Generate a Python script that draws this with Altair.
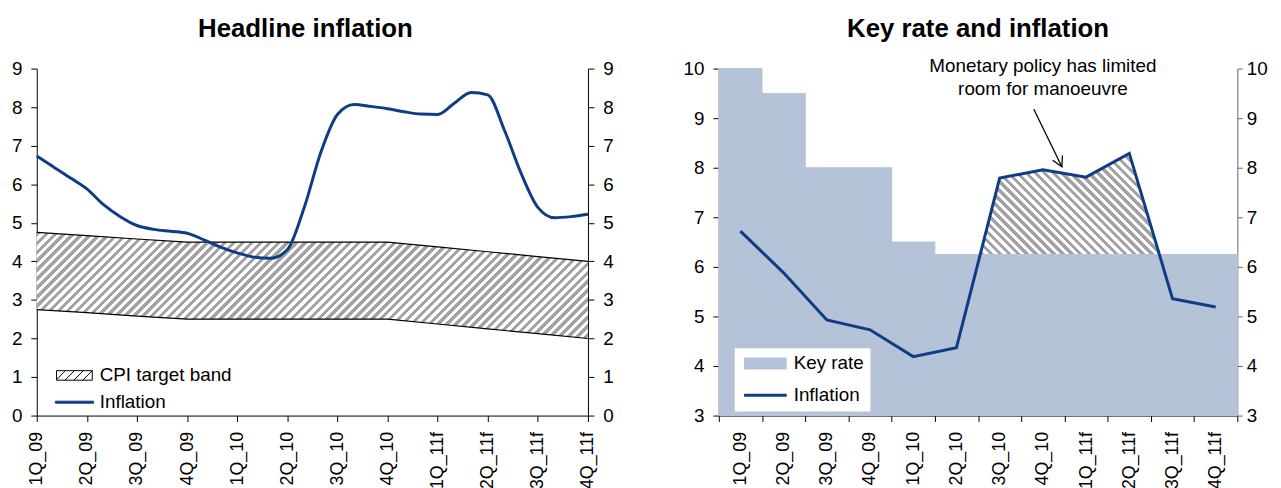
import math
import altair as alt
import pandas as pd

FONT = "Liberation Sans"
LINE_COLOR = "#0f3d85"
KEY_COLOR = "#b4c3d7"
HATCH_GRAY = "#a3a3a3"

quarters = ["1Q_09", "2Q_09", "3Q_09", "4Q_09", "1Q_10", "2Q_10",
            "3Q_10", "4Q_10", "1Q_11f", "2Q_11f", "3Q_11f", "4Q_11f"]

# Left panel: monthly headline inflation (1Q_09 ... 4Q_11f)
monthly_inflation = [6.73, 6.45, 6.17, 5.88, 5.47, 5.16, 4.93, 4.83, 4.78, 4.73,
                     4.56, 4.37, 4.22, 4.11, 4.08, 4.30, 5.38, 6.82, 7.81, 8.07,
                     8.02, 7.96, 7.88, 7.82, 7.81, 8.10, 8.38, 8.32, 7.40, 6.28,
                     5.40, 5.13, 5.16, 5.22]
band_upper = [4.75, 4.67, 4.58, 4.50, 4.50, 4.50, 4.50, 4.50, 4.375, 4.25, 4.125, 4.00]
band_lower = [2.75, 2.67, 2.58, 2.50, 2.50, 2.50, 2.50, 2.50, 2.375, 2.25, 2.125, 2.00]

# Right panel: quarterly
key_rate = [10.0, 9.5, 8.0, 8.0, 6.5, 6.25, 6.25, 6.25, 6.25, 6.25, 6.25, 6.25]
quarterly_inflation = [6.72, 5.88, 4.93, 4.73, 4.19, 4.37, 7.79, 7.96, 7.81, 8.29, 5.36, 5.19]

annotation_text = "Monetary policy has limited\nroom for manoeuvre"
left_legend = ["CPI target band", "Inflation"]
right_legend = ["Key rate", "Inflation"]

W1, W2, H = 556, 523, 350
Y1 = [0, 9]
Y2 = [3, 10]


def hatch(w, h, period, direction, frac=0.5):
    s = (w + h) * w / (w * w + h * h)
    if direction == "/":
        x1, y1, x2, y2 = 0, 0, s, s * h / w
    else:
        x1, y1, x2, y2 = 0, 1, s, 1 - s * h / w
    n = (w + h) / (math.sqrt(2) * period)
    stops = []
    k = 0
    while k < n:
        a = k / n
        b = min((k + frac) / n, 1)
        c = min((k + 1) / n, 1)
        stops += [{"offset": a, "color": HATCH_GRAY}, {"offset": b, "color": HATCH_GRAY},
                  {"offset": b, "color": "white"}, {"offset": c, "color": "white"}]
        k += 1
    return {"gradient": "linear", "x1": x1, "y1": y1, "x2": x2, "y2": y2, "stops": stops}


def hatch_swatch_path(hw, hh, step):
    parts = [f"M{-hw},{-hh}H{hw}V{hh}H{-hw}Z"]
    d = 2 * hh
    x0 = -hw - d
    while x0 < hw:
        xa, ya = x0, hh
        xb, yb = x0 + d, -hh
        if xa < -hw:
            ya = hh - (-hw - xa)
            xa = -hw
        if xb > hw:
            yb = -hh + (xb - hw)
            xb = hw
        if xb > xa:
            parts.append(f"M{xa:.3f},{ya:.3f}L{xb:.3f},{yb:.3f}")
        x0 += step
    return "".join(parts)


# ---------------- Left: Headline inflation ----------------
df_m = pd.DataFrame({"m": list(range(len(monthly_inflation))), "inflation": monthly_inflation})
df_band = pd.DataFrame({"m": list(range(0, 34, 3)), "upper": band_upper, "lower": band_lower})

label_expr = "[" + ",".join(f"'{q}'" for q in quarters) + "][round(datum.value/3)]"
x_left = alt.X("m:Q", scale=alt.Scale(domain=[0, 33], nice=False, zero=False),
               axis=alt.Axis(values=list(range(0, 34, 3)), labelExpr=label_expr, labelAngle=-90,
                             tickSize=6, labelPadding=10, labelFontSize=18, title=None))
y_scale1 = alt.Scale(domain=Y1, nice=False, zero=False)
y_axis1 = alt.Axis(values=list(range(0, 10)), tickSize=6, labelPadding=9, title=None)


def yl(field):
    return alt.Y(field, scale=y_scale1, axis=y_axis1)


band_h = (max(band_upper) - min(band_lower)) * H / (Y1[1] - Y1[0])
band_area = alt.Chart(df_band).mark_area(fill=hatch(W1, band_h, 9 / math.sqrt(2), "/"), strokeWidth=0).encode(
    x=x_left, y=yl("upper:Q"), y2="lower:Q")
upper_line = alt.Chart(df_band).mark_line(color="black", strokeWidth=1.2).encode(x=x_left, y=yl("upper:Q"))
lower_line = alt.Chart(df_band).mark_line(color="black", strokeWidth=1.2).encode(x=x_left, y=yl("lower:Q"))
infl_line = alt.Chart(df_m).mark_line(color=LINE_COLOR, strokeWidth=3, interpolate="monotone").encode(
    x=x_left, y=yl("inflation:Q"))

legend_l = alt.Legend(title=None, orient="none", legendX=19, legendY=300, padding=0,
                      symbolSize=256, symbolOffset=9.5, labelOffset=16, rowPadding=7,
                      labelFontSize=19, labelFont=FONT, symbolOpacity=1, symbolStrokeWidth=1)
left_shapes = [hatch_swatch_path(2.25, 0.6, 1.125), "M-2.4,-0.125H2.4V0.125H-2.4Z"]
legend_pts_l = alt.Chart(pd.DataFrame({"series": left_legend})).mark_point(
    filled=True, opacity=0, strokeWidth=1).encode(
    color=alt.Color("series:N", scale=alt.Scale(domain=left_legend, range=["white", LINE_COLOR]), legend=legend_l),
    shape=alt.Shape("series:N", scale=alt.Scale(domain=left_legend, range=left_shapes), legend=legend_l),
    stroke=alt.Stroke("series:N", scale=alt.Scale(domain=left_legend, range=["black", LINE_COLOR]), legend=legend_l),
)

right_axis_l = alt.Chart(df_m).mark_line(opacity=0).encode(
    x=x_left,
    y=alt.Y("inflation:Q", scale=y_scale1,
            axis=alt.Axis(orient="right", values=list(range(0, 10)), tickSize=6, labelPadding=9, title=None)))

left = alt.layer(
    alt.layer(band_area, upper_line, lower_line, infl_line, legend_pts_l),
    right_axis_l,
).resolve_scale(y="independent").properties(
    width=W1, height=H,
    title=alt.TitleParams("Headline inflation", fontSize=26, font=FONT, fontWeight="bold",
                          anchor="middle", frame="group", offset=-3, baseline="alphabetic", dx=-7),
)

# ---------------- Right: Key rate and inflation ----------------
df_q = pd.DataFrame({"q": quarters, "rate": key_rate, "inflation": quarterly_inflation})
x_right = alt.X("q:N", sort=quarters, scale=alt.Scale(domain=quarters, paddingInner=0, paddingOuter=0),
                axis=alt.Axis(tickBand="extent", labelAngle=-90, tickSize=6, labelPadding=10,
                              labelFontSize=18, title=None))
y_scale2 = alt.Scale(domain=Y2, nice=False, zero=False)
y_axis2 = alt.Axis(values=list(range(3, 11)), tickSize=6, labelPadding=9, title=None)


def yr(field):
    return alt.Y(field, scale=y_scale2, axis=y_axis2)


band_w = W2 / len(quarters)
hatch_w = band_w * (len(quarters) - 1)
hatch_h = (max(quarterly_inflation) - Y2[0]) * H / (Y2[1] - Y2[0])
hatch_area = alt.Chart(df_q).mark_area(fill=hatch(hatch_w, hatch_h, 9 / math.sqrt(2), "\\"), strokeWidth=0).encode(
    x=x_right, y=yr("inflation:Q"), y2=alt.datum(Y2[0]))
bars = alt.Chart(df_q).mark_bar(color=KEY_COLOR, stroke=KEY_COLOR, strokeWidth=1).encode(
    x=x_right, y=yr("rate:Q"), y2=alt.datum(Y2[0]))
line_r = alt.Chart(df_q).mark_line(color=LINE_COLOR, strokeWidth=3).encode(x=x_right, y=yr("inflation:Q"))
ann = alt.Chart(pd.DataFrame({"q": ["4Q_10"], "y": [10.06], "t": [annotation_text]})).mark_text(
    font=FONT, fontSize=19, lineBreak="\n", lineHeight=24, align="center", baseline="middle", color="black"
).encode(x=x_right, y=yr("y:Q"), text="t:N")

legend_r = alt.Legend(title=None, orient="none", legendX=16, legendY=282, padding=6, fillColor="white",
                      symbolSize=256, symbolOffset=15.5, labelOffset=19, rowPadding=12,
                      labelFontSize=19, labelFont=FONT, symbolOpacity=1, symbolStrokeWidth=0)
right_shapes = ["M-2.69,-0.75H2.69V0.75H-2.69Z", "M-2.69,-0.19H2.69V0.19H-2.69Z"]
legend_pts_r = alt.Chart(pd.DataFrame({"series": right_legend})).mark_point(
    filled=True, opacity=0, strokeWidth=0).encode(
    color=alt.Color("series:N", scale=alt.Scale(domain=right_legend, range=[KEY_COLOR, LINE_COLOR]), legend=legend_r),
    shape=alt.Shape("series:N", scale=alt.Scale(domain=right_legend, range=right_shapes), legend=legend_r),
)

right_axis_r = alt.Chart(df_q).mark_line(opacity=0).encode(
    x=alt.X("q:N", sort=quarters, scale=alt.Scale(domain=quarters, paddingInner=0, paddingOuter=0), axis=None),
    y=alt.Y("inflation:Q", scale=y_scale2,
            axis=alt.Axis(orient="right", values=list(range(3, 11)), tickSize=5, labelPadding=4, title=None,
                          domainColor="#666666", tickColor="#666666")))

# arrow pointing into hatched area (positions on band-index scale 0..12)
df_arrow = pd.DataFrame({"x": [7.29], "y": [9.18], "x2": [7.94], "y2": [8.02]})
arrow_x = alt.X("x:Q", scale=alt.Scale(domain=[0, 12], nice=False, zero=False), axis=None)
arrow_y = alt.Y("y:Q", scale=alt.Scale(domain=Y2, nice=False, zero=False), axis=None)
arrow_rule = alt.Chart(df_arrow).mark_rule(color="black", strokeWidth=1.3).encode(
    x=arrow_x, x2="x2:Q", y=arrow_y, y2="y2:Q")
arrow_head = alt.Chart(df_arrow).mark_point(
    shape="M-0.55,1L0,0L0.55,1", angle=154, size=400, filled=False, color="black",
    strokeWidth=1.3, opacity=1).encode(
    x=alt.X("x2:Q", scale=alt.Scale(domain=[0, 12], nice=False, zero=False), axis=None),
    y=alt.Y("y2:Q", scale=alt.Scale(domain=Y2, nice=False, zero=False), axis=None))

right = alt.layer(
    alt.layer(hatch_area, bars, line_r, ann, legend_pts_r),
    right_axis_r,
    alt.layer(arrow_rule, arrow_head),
).resolve_scale(x="independent", y="independent").properties(
    width=W2, height=H,
    title=alt.TitleParams("Key rate and inflation", fontSize=26, font=FONT, fontWeight="bold",
                          anchor="middle", frame="group", offset=-6, baseline="alphabetic"),
)

chart = alt.hconcat(left, right, spacing=69).resolve_scale(
    color="independent", shape="independent", stroke="independent"
).resolve_legend(
    color="independent", shape="independent", stroke="independent"
).properties(
    padding={"left": 3, "top": 5, "right": 5, "bottom": 5}
).configure_view(stroke=None).configure_axis(
    labelFont=FONT, labelFontSize=19, labelColor="black", domainColor="black",
    tickColor="black", grid=False, domainWidth=1, tickWidth=1
)

chart.save("out.html", embed_options={"renderer": "svg", "actions": False})
